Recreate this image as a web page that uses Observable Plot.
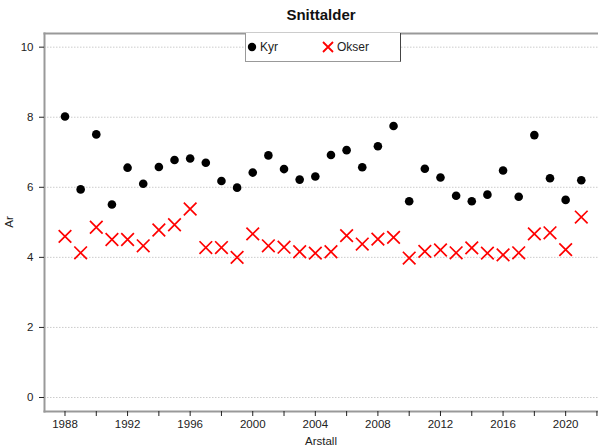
<!DOCTYPE html>
<html>
<head>
<meta charset="utf-8">
<script src="https://cdn.jsdelivr.net/npm/d3@7"></script>
<script src="https://cdn.jsdelivr.net/npm/@observablehq/plot@0.6"></script>
<style>
  html, body { margin: 0; padding: 0; background: #fff; }
  #wrap { position: relative; width: 598px; height: 448px; font-family: "Liberation Sans", Arial, sans-serif; color: #222; }
  #wrap > svg { position: absolute; left: 0; top: 0; }
  .ov { position: absolute; white-space: nowrap; }
  #title { left: 0; width: 642px; top: 6px; text-align: center; font-weight: bold; font-size: 15px; color: #111; }
  #xlab { left: 0; width: 642px; top: 435px; text-align: center; font-size: 11.5px; }
  #ylab { left: 9px; top: 222px; font-size: 11.5px; transform: translate(-50%, -50%) rotate(-90deg); }
  #legend { left: 245px; top: 33px; width: 156px; height: 29px; box-sizing: border-box;
            border-left: 1px solid #999; border-bottom: 1.5px solid #999; border-right: 1px solid #444; background: #fff; }
  .li { position: absolute; top: 7px; font-size: 12px; display: flex; align-items: center; }
  .li svg { display: block; margin-right: 2px; }
</style>
</head>
<body>
<div id="wrap">
  <div class="ov" id="title">Snittalder</div>
  <div class="ov" id="xlab">Arstall</div>
  <div class="ov" id="ylab">Ar</div>
</div>
<script>
const years = [1988, 1989, 1990, 1991, 1992, 1993, 1994, 1995, 1996, 1997, 1998, 1999, 2000, 2001, 2002, 2003, 2004,
               2005, 2006, 2007, 2008, 2009, 2010, 2011, 2012, 2013, 2014, 2015, 2016, 2017, 2018, 2019, 2020, 2021];
const kyr = [8.02, 5.94, 7.51, 5.51, 6.56, 6.10, 6.58, 6.78, 6.82, 6.70, 6.18, 5.99, 6.42, 6.91, 6.52, 6.22, 6.31,
             6.92, 7.06, 6.57, 7.17, 7.75, 5.60, 6.53, 6.28, 5.76, 5.60, 5.79, 6.48, 5.73, 7.49, 6.26, 5.64, 6.20];
const okser = [4.60, 4.13, 4.86, 4.51, 4.51, 4.33, 4.78, 4.93, 5.38, 4.28, 4.28, 4.00, 4.67, 4.33, 4.29, 4.16, 4.12,
               4.16, 4.62, 4.38, 4.52, 4.57, 3.98, 4.17, 4.21, 4.13, 4.27, 4.12, 4.07, 4.13, 4.67, 4.70, 4.22, 5.15];
const yTicks = [0, 2, 4, 6, 8, 10];
const xTicks = [1988, 1990, 1992, 1994, 1996, 1998, 2000, 2002, 2004, 2006, 2008, 2010, 2012, 2014, 2016, 2018, 2020, 2022];
const xLabelEvery = 4;
const seriesNames = ["Kyr", "Okser"];

const kyrData = years.map((y, i) => ({year: y, value: kyr[i]}));
const okserData = years.map((y, i) => ({year: y, value: okser[i]}));

const chart = Plot.plot({
  width: 598,
  height: 448,
  marginLeft: 44,
  marginRight: 0,
  marginTop: 33,
  marginBottom: 37,
  style: {fontFamily: "'Liberation Sans', Arial, sans-serif", fontSize: "11.5px", color: "#222", background: "transparent"},
  x: {domain: [1986.69, 2022.1]},
  y: {domain: [-0.4, 10.39]},
  marks: [
    Plot.gridY(yTicks, {stroke: "#ccc", strokeOpacity: 1, strokeDasharray: "1.5,1.5"}),
    Plot.frame({anchor: "top", stroke: "#999", strokeWidth: 2}),
    Plot.frame({anchor: "left", stroke: "#999", strokeWidth: 2}),
    Plot.frame({anchor: "bottom", stroke: "#999", strokeWidth: 2}),
    Plot.axisY(yTicks, {tickSize: 5, tickPadding: 6, label: null, color: "#222"}),
    Plot.axisX(xTicks, {tickSize: 5, tickPadding: 3, label: null, color: "#222",
      tickFormat: d => d % xLabelEvery === 0 ? String(d) : ""}),
    Plot.dot(kyrData, {x: "year", y: "value", r: 4.3, fill: "black", stroke: "none"}),
    Plot.dot(okserData, {x: "year", y: "value", symbol: "times", r: 5.8, stroke: "red", strokeWidth: 1.7})
  ]
});
const wrap = document.getElementById("wrap");
wrap.insertBefore(chart, wrap.firstChild);

// legend
const leg = document.createElement("div");
leg.className = "ov";
leg.id = "legend";
const item1 = document.createElement("div");
item1.className = "li";
item1.style.left = "1px";
item1.innerHTML = `<svg width="11" height="12"><circle cx="5" cy="6" r="4.2" fill="black"/></svg>${seriesNames[0]}`;
const item2 = document.createElement("div");
item2.className = "li";
item2.style.left = "75px";
item2.innerHTML = `<svg width="14" height="12"><path d="M2,1L12,11M2,11L12,1" stroke="red" stroke-width="1.8"/></svg>${seriesNames[1]}`;
leg.appendChild(item1);
leg.appendChild(item2);
wrap.appendChild(leg);
</script>
</body>
</html>
